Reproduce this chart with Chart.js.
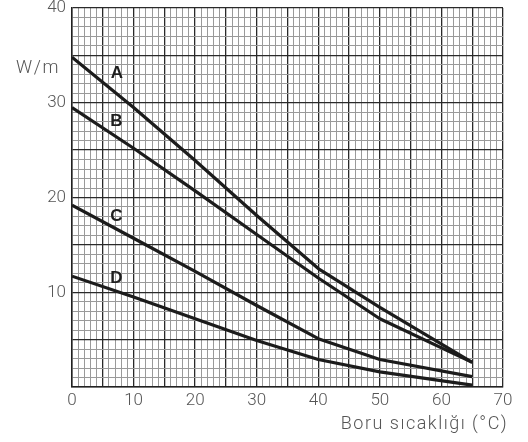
<!DOCTYPE html>
<html>
<head>
<meta charset="utf-8">
<script src="https://cdn.jsdelivr.net/npm/chart.js@4"></script>
<style>
html,body{margin:0;padding:0;background:#fff;}
#wrap{width:528px;height:442px;position:relative;}
</style>
</head>
<body>
<div id="wrap"><canvas id="c" width="528" height="442"></canvas></div>
<script>
const temps = [0, 10, 20, 30, 40, 50, 65];
const seriesA = [34.8, 29.5, 23.9, 18.1, 12.5, 8.4, 2.6];
const seriesB = [29.5, 25.2, 20.7, 16.1, 11.5, 7.2, 2.6];
const seriesC = [19.2, 15.7, 12.2, 8.6, 5.1, 2.9, 1.1];
const seriesD = [11.7, 9.5, 7.2, 4.9, 2.9, 1.6, 0.2];
const curveNames = ['A', 'B', 'C', 'D'];
const curveLabelPos = [[7.3, 33.1], [7.2, 28.0], [7.2, 18.0], [7.2, 11.5]];
const xTickLabels = [0, 10, 20, 30, 40, 50, 60, 70];
const yTickLabels = [10, 20, 30, 40];
const yUnit = 'W/m';
const xTitle = 'Boru sıcaklığı (°C)';

const allSeries = [seriesA, seriesB, seriesC, seriesD];
const datasets = allSeries.map((s, i) => ({
  label: curveNames[i],
  data: temps.map((t, j) => ({x: t, y: s[j]})),
  borderColor: '#1c1c1c',
  borderWidth: 3.2,
  pointRadius: 0,
  tension: 0,
  fill: false,
  borderCapStyle: 'butt',
  borderJoinStyle: 'round'
}));

const textFont = 'Roboto, "DejaVu Sans", sans-serif';
const textColor = '#555';

const annot = {
  id: 'annot',
  afterDatasetsDraw(chart) {
    const {ctx, scales: {x, y}} = chart;
    ctx.save();
    ctx.fillStyle = '#1e1e1e';
    ctx.font = 'bold 17px "Liberation Sans", Arial, sans-serif';
    ctx.textAlign = 'center';
    ctx.textBaseline = 'middle';
    curveNames.forEach((n, i) => {
      ctx.fillText(n, x.getPixelForValue(curveLabelPos[i][0]), y.getPixelForValue(curveLabelPos[i][1]));
    });
    ctx.fillStyle = textColor;
    ctx.font = '300 18px ' + textFont;
    ctx.letterSpacing = '1.5px';
    ctx.textAlign = 'center';
    ctx.fillText(yUnit, 38, y.getPixelForValue(33.6));
    ctx.textAlign = 'right';
    ctx.fillText(xTitle, 508, 424);
    ctx.restore();
  }
};

new Chart(document.getElementById('c'), {
  type: 'line',
  data: {datasets},
  options: {
    responsive: false,
    animation: false,
    devicePixelRatio: 1,
    layout: {padding: {top: 8, right: 25, left: 0, bottom: 0}},
    plugins: {legend: {display: false}, tooltip: {enabled: false}},
    scales: {
      x: {
        type: 'linear', min: 0, max: 70,
        afterFit(s) { s.height = 55; s.paddingLeft = 0; s.paddingRight = 0; },
        afterBuildTicks(s) { s.ticks = []; for (let v = 0; v <= 70; v++) s.ticks.push({value: v}); },
        border: {display: true, color: '#222', width: 1.5},
        grid: {
          drawTicks: false,
          color: c => (c.tick && c.tick.value % 5 === 0) ? '#2a2a2a' : '#9a9a9a',
          lineWidth: c => (c.tick && c.tick.value % 5 === 0) ? 1.3 : 1
        },
        ticks: {
          autoSkip: false, maxRotation: 0, padding: 4,
          color: textColor, font: {family: textFont, size: 17, weight: '300'},
          callback: v => xTickLabels.includes(v) ? String(v) : ''
        }
      },
      y: {
        type: 'linear', min: 0, max: 40,
        afterFit(s) { s.width = 72; s.paddingTop = 0; s.paddingBottom = 0; },
        afterBuildTicks(s) { s.ticks = []; for (let v = 0; v <= 40; v++) s.ticks.push({value: v}); },
        border: {display: true, color: '#222', width: 1.5},
        grid: {
          drawTicks: false,
          color: c => (c.tick && c.tick.value % 5 === 0) ? '#2a2a2a' : '#9a9a9a',
          lineWidth: c => (c.tick && c.tick.value % 5 === 0) ? 1.3 : 1
        },
        ticks: {
          autoSkip: false, padding: 6,
          color: textColor, font: {family: textFont, size: 17, weight: '300'},
          callback: v => yTickLabels.includes(v) ? String(v) : ''
        }
      }
    }
  },
  plugins: [annot]
});
</script>
</body>
</html>
